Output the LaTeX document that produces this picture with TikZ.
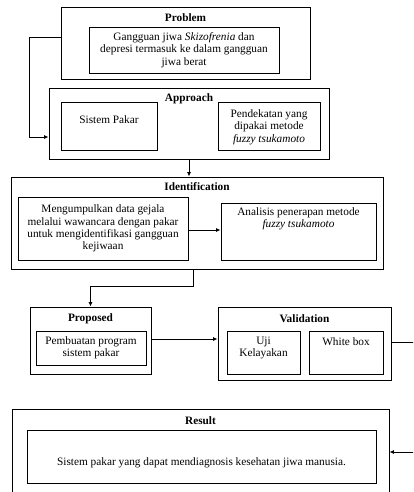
\documentclass[tikz,border=0pt]{standalone}
\usepackage{fontspec}
\setmainfont{Liberation Serif}
\usetikzlibrary{arrows.meta}
\begin{document}
\begin{tikzpicture}[x=1pt,y=-1pt,
  box/.style={draw, line width=0.9pt, inner sep=0pt},
  txt/.style={align=center, inner sep=0pt, font=\fontsize{11.3}{12.4}\selectfont},
  ttl/.style={inner sep=0pt, font=\fontsize{11.3}{12.4}\selectfont\bfseries},
  arr/.style={line width=0.9pt, -{Latex[length=4.5pt,width=4pt]}},
  ln/.style={line width=0.9pt}]
\useasboundingbox (0,0) rectangle (413,492);
\clip (0,0) rectangle (413,492);
% Problem
\node[box, minimum width=249pt, minimum height=72pt] (prob) at (185.5,43) {};
\node[ttl] (probT) at (185.5,18) {Problem};
\node[box, minimum width=190pt, minimum height=46pt] (probI) at (184,50) {};
\node[txt] (probX) at (184,50) {Gangguan jiwa \textit{Skizofrenia} dan\\depresi termasuk ke dalam gangguan\\jiwa berat};
% Approach
\node[box, minimum width=280pt, minimum height=71pt] (appr) at (189,123.5) {};
\node[ttl] (apprT) at (189,99) {Approach};
\node[box, minimum width=96pt, minimum height=48pt] (apprL) at (109,126) {};
\node[txt] (apprLX) at (109,120) {Sistem Pakar};
\node[box, minimum width=102pt, minimum height=48pt] (apprR) at (269,126) {};
\node[txt] (apprRX) at (269,127) {Pendekatan yang\\dipakai metode\\\textit{fuzzy tsukamoto}};
% Identification
\node[box, minimum width=372pt, minimum height=92pt] (ident) at (197,223) {};
\node[ttl] (identT) at (197,187) {Identification};
\node[box, minimum width=170pt, minimum height=63pt] (identL) at (103,228.5) {};
\node[txt] (identLX) at (103,228.5) {Mengumpulkan data gejala\\melalui wawancara dengan pakar\\untuk mengidentifikasi gangguan\\kejiwaan};
\node[box, minimum width=155pt, minimum height=57pt] (identR) at (298.5,231.5) {};
\node[txt] (identRX) at (298.5,219) {Analisis penerapan metode\\\textit{fuzzy tsukamoto}};
% Proposed
\node[box, minimum width=121pt, minimum height=67pt] (prop) at (90.5,340.5) {};
\node[ttl] (propT) at (90.5,319) {Proposed};
\node[box, minimum width=110pt, minimum height=34pt] (propI) at (91,348) {};
\node[txt] (propX) at (91,348) {Pembuatan program\\sistem pakar};
% Validation
\node[box, minimum width=173pt, minimum height=73pt] (valid) at (304.5,343.5) {};
\node[ttl] (validT) at (304.5,319) {Validation};
\node[box, minimum width=73pt, minimum height=43pt] (validL) at (263.5,352.5) {};
\node[txt] (validLX) at (263.5,348) {Uji\\Kelayakan};
\node[box, minimum width=74pt, minimum height=43pt] (validR) at (346,352.5) {};
\node[txt] (validRX) at (346,342) {White box};
% Result
\node[box, minimum width=377pt, minimum height=91pt] (res) at (200.5,454.5) {};
\node[ttl] (resT) at (200.5,421) {Result};
\node[box, minimum width=349pt, minimum height=53pt] (resI) at (201.5,456.5) {};
\node[txt] (resX) at (201.5,463) {Sistem pakar yang dapat mendiagnosis kesehatan jiwa manusia.};
% connectors
\draw[arr] ([yshift=6pt]prob.west) -- ++(-31,0) |- ([yshift=-13.5pt]appr.west);
\draw[arr] (appr.south) -- (appr.south |- ident.north);
\draw[arr] ([yshift=-1.5pt]identL.east) -- ([yshift=-1.5pt]identL.east -| identR.west);
\draw[arr] ([xshift=-4pt]ident.south) -- ++(0,17) -| (prop.north);
\draw[arr] ([yshift=1.5pt]prop.east) -- ([yshift=1.5pt]prop.east -| valid.west);
\coordinate (vEdge) at (420,342);
\draw[ln] ([yshift=1.5pt]valid.east) -- (vEdge);
\coordinate (rEdge) at (420,452);
\draw[arr] (rEdge) -- (rEdge -| res.east);
\end{tikzpicture}
\end{document}
